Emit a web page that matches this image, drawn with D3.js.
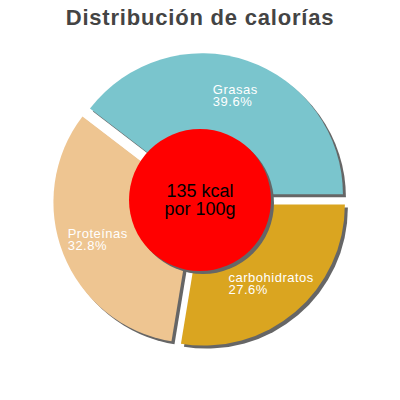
<!DOCTYPE html>
<html>
<head>
<meta charset="utf-8">
<script src="https://cdn.jsdelivr.net/npm/d3@7"></script>
<style>
  body { margin: 0; background: #fff; }
  text { font-family: "Liberation Sans", Arial, sans-serif; }
</style>
</head>
<body>
<div id="chart"></div>
<script>
// data
const categories = ["Grasas", "Proteínas", "carbohidratos"];
const percents = [39.6, 32.8, 27.6];
const colors = ["#7AC5CD", "#EEC591", "#DAA520"];
const centerLines = ["135 kcal", "por 100g"];
const title = "Distribución de calorías";

const width = 400, height = 400;
const cx = 200, cy = 200, radius = 141, explode = 6;

const svg = d3.select("#chart").append("svg")
    .attr("width", width)
    .attr("height", height);

svg.append("text")
    .attr("x", width / 2)
    .attr("y", 25)
    .attr("text-anchor", "middle")
    .attr("font-size", 22)
    .attr("font-weight", "bold")
    .attr("letter-spacing", 0.8)
    .attr("fill", "#444")
    .text(title);

// counterclockwise from 3 o'clock
const pie = d3.pie()
    .sort(null)
    .startAngle(Math.PI / 2)
    .endAngle(Math.PI / 2 - 2 * Math.PI);

const arcs = pie(percents).map((d, i) => ({ ...d, name: categories[i], color: colors[i] }));

const arc = d3.arc().innerRadius(0).outerRadius(radius);
const labelArc = d3.arc().innerRadius(104).outerRadius(104);

const offset = d => {
    const a = (d.startAngle + d.endAngle) / 2;
    return [Math.sin(a) * explode, -Math.cos(a) * explode];
};

const g = svg.append("g").attr("transform", `translate(${cx},${cy})`);

const slices = g.selectAll("g.slice")
    .data(arcs)
    .join("g")
    .attr("class", "slice")
    .attr("transform", d => `translate(${offset(d)})`);

slices.append("path")
    .attr("d", arc)
    .attr("transform", "translate(3,3)")
    .attr("fill", "#666");

slices.append("path")
    .attr("d", arc)
    .attr("fill", d => d.color);

// labels: left-aligned block centred on the slice centroid
slices.each(function(d) {
    const [lx, ly] = labelArc.centroid(d);
    const lines = [d.name, d.value.toFixed(1) + "%"];
    const texts = d3.select(this).selectAll("text.lab")
        .data(lines)
        .join("text")
        .attr("class", "lab")
        .attr("y", (s, k) => ly - 2 + k * 12)
        .attr("font-size", 13)
        .attr("fill", "#fff")
        .attr("letter-spacing", 0.5)
        .text(s => s);
    const w = d3.max(texts.nodes(), n => n.getComputedTextLength());
    texts.attr("x", lx - w / 2);
});

// centre disc
g.append("circle")
    .attr("cx", 3).attr("cy", 3)
    .attr("r", 71)
    .attr("fill", "#666");
g.append("circle")
    .attr("r", 71)
    .attr("fill", "#ff0000");

g.selectAll("text.center")
    .data(centerLines)
    .join("text")
    .attr("class", "center")
    .attr("x", 0)
    .attr("y", (d, i) => -3 + i * 18)
    .attr("text-anchor", "middle")
    .attr("font-size", 18)
    .attr("fill", "#000")
    .text(d => d);
</script>
</body>
</html>
